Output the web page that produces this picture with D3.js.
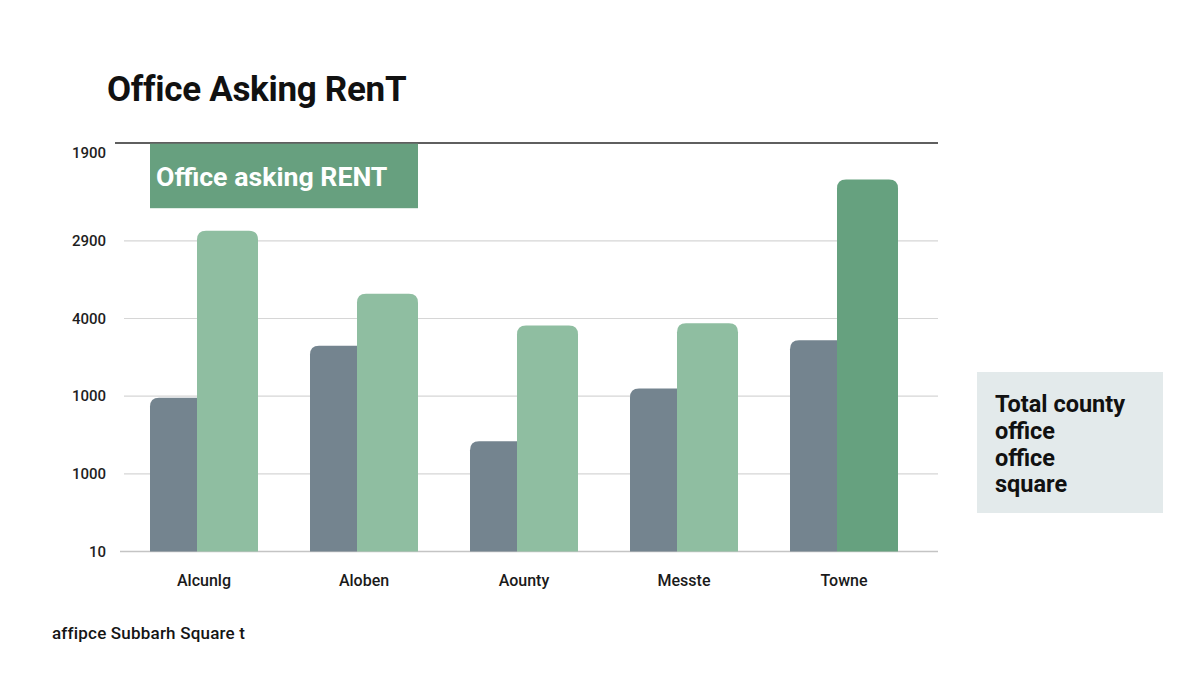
<!DOCTYPE html>
<html>
<head>
<meta charset="utf-8">
<script src="https://cdn.jsdelivr.net/npm/d3@7"></script>
<style>
  html, body { margin: 0; padding: 0; background: #ffffff; }
  svg { display: block; font-family: Roboto, "Noto Sans", Arial, sans-serif; }
</style>
</head>
<body>
<svg id="chart" width="1200" height="678"></svg>
<script>
// ---- data ----
const categories = ["Alcunlg", "Aloben", "Aounty", "Messte", "Towne"];
const grayValues = [1.98, 2.65, 1.42, 2.10, 2.72];
const greenValues = [4.13, 3.32, 2.91, 2.94, 4.79];
const yTickValues = [0, 1, 2, 3, 4, 5.14];
const yTickLabels = ["10", "1000", "1000", "4000", "2900", "1900"];
const gridValues = [0, 1, 2, 3, 4];
const titleText = "Office Asking RenT";
const bannerText = "Office asking RENT";
const legendLines = ["Total county", "office", "office", "square"];
const footnoteText = "affipce Subbarh Square t";

// ---- layout ----
const svg = d3.select("#chart");
const plot = { left: 118, right: 938, top: 143, bottom: 551.5 };

const y = d3.scaleLinear().domain([0, 5.26]).range([plot.bottom, plot.top]);
const x = d3.scaleBand().domain(categories)
  .range([114, 934]).paddingInner(0.325).paddingOuter(0.225);
const grayShare = 47 / 108;

// title
svg.append("text").attr("x", 107).attr("y", 101)
  .attr("font-size", 35).attr("font-weight", 700).attr("fill", "#111")
  .attr("letter-spacing", -0.3)
  .text(titleText);

// gridlines
svg.append("g").selectAll("line").data(gridValues).join("line")
  .attr("x1", d => d === 0 ? 120 : 124).attr("x2", plot.right)
  .attr("y1", d => y(d)).attr("y2", d => y(d))
  .attr("stroke", d => d === 0 ? "#c4c4c4" : "#d6d6d6")
  .attr("stroke-width", d => d === 0 ? 1.6 : 1.2);

// top frame line
svg.append("line").attr("x1", 115).attr("x2", plot.right)
  .attr("y1", plot.top).attr("y2", plot.top)
  .attr("stroke", "#2a2a2a").attr("stroke-width", 1.4);

// y axis labels
const yAxis = d3.axisLeft(y).tickValues(yTickValues)
  .tickFormat((d, i) => yTickLabels[i]).tickSize(0).tickPadding(0);
const yg = svg.append("g").attr("transform", "translate(106,0)").call(yAxis);
yg.select(".domain").remove();
yg.selectAll("text").attr("font-size", 15).attr("font-weight", 500)
  .attr("fill", "#1e1e1e").attr("font-family", "Roboto, sans-serif");

// bars
function roundedTop(x0, x1, yTop, yBot, rl, rr) {
  return `M${x0},${yBot} L${x0},${yTop + rl} Q${x0},${yTop} ${x0 + rl},${yTop}` +
    ` L${x1 - rr},${yTop} Q${x1},${yTop} ${x1},${yTop + rr} L${x1},${yBot} Z`;
}
const groups = svg.append("g").selectAll("g").data(categories).join("g");
groups.append("path")
  .attr("d", (c, i) => {
    const x0 = x(c), x1 = x(c) + x.bandwidth() * grayShare;
    return roundedTop(x0, x1, y(grayValues[i]), y(0), 9, 0);
  })
  .attr("fill", "#74848f");
groups.append("path")
  .attr("d", (c, i) => {
    const x0 = x(c) + x.bandwidth() * grayShare, x1 = x(c) + x.bandwidth();
    return roundedTop(x0, x1, y(greenValues[i]), y(0), 9, 9);
  })
  .attr("fill", (c, i) => i === categories.length - 1 ? "#66a17f" : "#8fbea1");

// x axis labels
const xAxis = d3.axisBottom(x).tickSize(0).tickPadding(0);
const xg = svg.append("g").attr("transform", "translate(0,586)").call(xAxis);
xg.select(".domain").remove();
xg.selectAll("text").attr("dy", 0).attr("font-size", 16).attr("font-weight", 500)
  .attr("fill", "#1a1a1a").attr("font-family", "Roboto, sans-serif");

// banner
svg.append("rect").attr("x", 150).attr("y", plot.top + 0.7)
  .attr("width", 268).attr("height", 64.5).attr("fill", "#67a07f");
svg.append("text").attr("x", 156).attr("y", 186)
  .attr("font-size", 26.7).attr("font-weight", 700).attr("fill", "#ffffff")
  .text(bannerText);

// legend box
svg.append("rect").attr("x", 977).attr("y", 372).attr("width", 186).attr("height", 141)
  .attr("fill", "#e3eaeb");
svg.append("g").selectAll("text").data(legendLines).join("text")
  .attr("x", 995).attr("y", (d, i) => 412 + i * 26.8)
  .attr("font-size", 23.5).attr("font-weight", 700).attr("fill", "#111")
  .text(d => d);

// footnote
svg.append("text").attr("x", 52).attr("y", 639)
  .attr("font-size", 17).attr("font-weight", 500).attr("fill", "#151515")
  .attr("letter-spacing", 0.2)
  .text(footnoteText);
</script>
</body>
</html>
